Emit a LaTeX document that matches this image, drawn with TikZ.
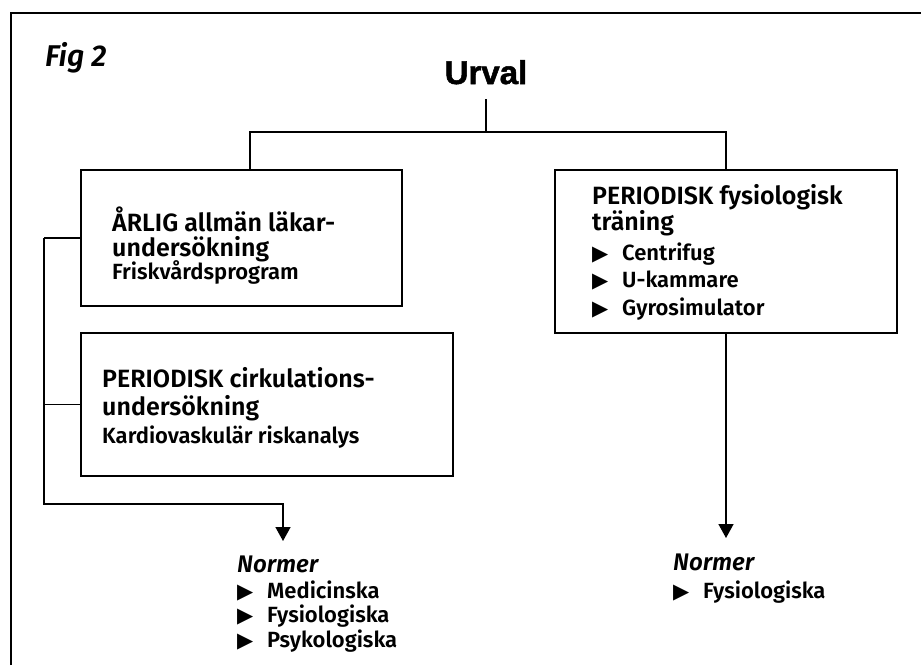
\documentclass[tikz,border=0pt]{standalone}
\usepackage{fontspec}
\setmainfont{Fira Sans}[BoldFont={Fira Sans SemiBold}, BoldItalicFont={Fira Sans SemiBold Italic}]
\newfontfamily\urvalfont{Liberation Sans}[BoldFeatures={FakeBold=1.6}]
\newfontfamily\symfont{DejaVu Sans}
\usetikzlibrary{arrows.meta}
\tikzset{
  box/.style={draw, line width=1.6pt, inner sep=0pt},
  ttl/.style={anchor=base west, inner sep=0pt, font=\bfseries\fontsize{25}{26}\selectfont},
  sub/.style={anchor=base west, inner sep=0pt, font=\bfseries\fontsize{22}{24}\selectfont},
  nrm/.style={anchor=base west, inner sep=0pt, font=\bfseries\itshape\fontsize{24}{24}\selectfont},
  conn/.style={line width=1.5pt},
  arr/.style={conn, -{Triangle[length=14pt,width=15pt]}},
  frame/.style={line width=1.8pt},
}
\newcommand{\bul}[1]{\makebox[30pt][l]{\symfont\fontsize{21}{21}\selectfont ▶}#1}
\begin{document}
\begin{tikzpicture}[x=1pt,y=-1pt]
\useasboundingbox (0,0) rectangle (921,665);
% frame
\draw[frame] (11,665) -- (11,13) -- (921,13);
% titles
\node[anchor=base west, inner sep=0pt, font=\bfseries\itshape\fontsize{30}{30}\selectfont] (fig) at (45,66) {Fig 2};
\node[anchor=base, inner sep=0pt, font=\urvalfont\bfseries\fontsize{33}{33}\selectfont] (urv) at (486,84) {Urval};
% boxes
\node[box, minimum width=321pt, minimum height=136pt] (b1) at (241.5,238) {};
\node[box, minimum width=372pt, minimum height=143pt] (b2) at (267,404.5) {};
\node[box, minimum width=342pt, minimum height=163pt] (b3) at (726,251.5) {};
% box 1 text
\node[ttl] (b1t1) at (112,231) {ÅRLIG allmän läkar-};
\node[ttl] (b1t2) at (112,256) {undersökning};
\node[sub] (b1t3) at (112,279) {Friskvårdsprogram};
% box 2 text
\node[ttl] (b2t1) at (102,387) {PERIODISK cirkulations-};
\node[ttl] (b2t2) at (102,415) {undersökning};
\node[sub] (b2t3) at (102,443) {Kardiovaskulär riskanalys};
% box 3 text
\node[ttl] (b3t1) at (592,204) {PERIODISK fysiologisk};
\node[ttl] (b3t2) at (592,230) {träning};
\node[sub] (b3i1) at (592,260) {\bul{Centrifug}};
\node[sub] (b3i2) at (592,287) {\bul{U-kammare}};
\node[sub] (b3i3) at (592,315) {\bul{Gyrosimulator}};
% norms left
\node[nrm] (nl) at (237,572) {Normer};
\node[sub] (nl1) at (237,598) {\bul{Medicinska}};
\node[sub] (nl2) at (237,622) {\bul{Fysiologiska}};
\node[sub] (nl3) at (237,647) {\bul{Psykologiska}};
% norms right
\node[nrm] (nr) at (673,570) {Normer};
\node[sub] (nr1) at (673,598) {\bul{Fysiologiska}};
% connectors
\coordinate (ut) at (486,99);
\coordinate (bl) at (250,132);
\coordinate (cornerL) at (44,504);
\coordinate (tipL) at (283,541);
\coordinate (tipR) at (726,538);
\draw[conn] (ut) -- (ut |- bl);
\draw[conn] (b1.north -| bl) -- (bl) -- (bl -| b3.north) -- (b3.north);
\draw[conn] (b1.west) -- (b1.west -| cornerL);
\draw[conn] (b2.west) -- (b2.west -| cornerL);
\draw[arr] (b1.west -| cornerL) -- (cornerL) -| (tipL);
\draw[arr] (b3.south) -- (tipR);
\end{tikzpicture}
\end{document}
